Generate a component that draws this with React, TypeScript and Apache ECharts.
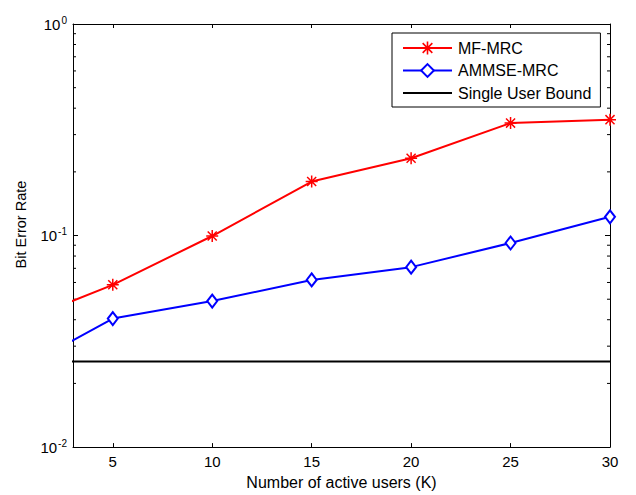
import React, { useEffect, useRef } from "react";
import * as echarts from "echarts";

const userCounts = [1, 5, 10, 15, 20, 25, 30];
const mfMrc = [0.0414, 0.0585, 0.0995, 0.18, 0.232, 0.34, 0.353];
const ammseMrc = [0.0252, 0.0405, 0.049, 0.0617, 0.0709, 0.0922, 0.1226];
const singleUserBound = [0.0254, 0.0254, 0.0254, 0.0254, 0.0254, 0.0254, 0.0254];
const minorTickValues = [0.02, 0.03, 0.04, 0.05, 0.06, 0.07, 0.08, 0.09, 0.2, 0.3, 0.4, 0.5, 0.6, 0.7, 0.8, 0.9];
const xMin = 3;
const xMax = 30;
const yMin = 0.01;
const yMax = 1;

const FONT = "'Liberation Sans', Arial, Helvetica, sans-serif";

const asteriskPath =
  "path://M10.5 0H13.5V24H10.5Z M0 10.5H24V13.5H0Z M1.9 4L4 1.9L22.1 20L20 22.1Z M20 1.9L22.1 4L4 22.1L1.9 20Z";

export default function App() {
  const ref = useRef<HTMLDivElement>(null);

  useEffect(() => {
    if (!ref.current) return;
    const chart = echarts.init(ref.current, null, { renderer: "svg" });
    const pair = (ys: number[]) => userCounts.map((x, i) => [x, ys[i]]);

    const yLabelFmt = (v: number) => {
      const e = Math.round(Math.log10(v));
      return "10{e|" + e + "}";
    };

    chart.setOption({
      animation: false,
      backgroundColor: "#fff",
      textStyle: { fontFamily: FONT, color: "#000" },
      grid: { left: 73, right: 26, top: 24, bottom: 46 },
      legend: {
        data: [
          { name: "MF-MRC" },
          { name: "AMMSE-MRC" },
          { name: "Single User Bound", itemStyle: { opacity: 0 } },
        ],
        orient: "vertical",
        left: 392,
        top: 33,
        itemWidth: 49,
        itemHeight: 16,
        itemGap: 6.5,
        padding: [7, 9, 6, 10],
        borderColor: "#000",
        borderWidth: 1,
        borderRadius: 0,
        backgroundColor: "#fff",
        selectedMode: false,
        textStyle: { fontFamily: FONT, fontSize: 16, color: "#000", padding: [0, 0, 0, 1] },
      },
      xAxis: [
        {
          type: "value",
          min: xMin,
          max: xMax,
          name: "Number of active users (K)",
          nameLocation: "middle",
          nameGap: 24,
          nameTextStyle: { fontFamily: FONT, fontSize: 16, color: "#000" },
          axisLine: { show: true, lineStyle: { color: "#000", width: 1 } },
          axisTick: { show: true, inside: true, length: 4, lineStyle: { color: "#000" } },
          axisLabel: { showMinLabel: false, fontFamily: FONT, fontSize: 15, color: "#000", margin: 7 },
          splitLine: { show: false },
        },
        {
          type: "value",
          position: "top",
          min: xMin,
          max: xMax,
          axisLine: { show: true, onZero: false, lineStyle: { color: "#000", width: 1 } },
          axisTick: { show: true, inside: true, length: 4, lineStyle: { color: "#000" } },
          axisLabel: { show: false },
          splitLine: { show: false },
        },
      ],
      yAxis: [
        {
          type: "log",
          logBase: 10,
          min: yMin,
          max: yMax,
          name: "Bit Error Rate",
          nameLocation: "middle",
          nameGap: 45,
          nameTextStyle: { fontFamily: FONT, fontSize: 14.5, color: "#000", padding: [0, 0, 0, 22] },
          axisLine: { show: true, lineStyle: { color: "#000", width: 1 } },
          axisTick: { show: true, inside: true, length: 5, lineStyle: { color: "#000" } },
          axisLabel: {
            fontFamily: FONT,
            fontSize: 15,
            color: "#000",
            margin: 6,
            formatter: yLabelFmt,
            rich: {
              e: { fontFamily: FONT, fontSize: 10, color: "#000", verticalAlign: "top", padding: [0, 0, 8, 1] },
            },
          },
          splitLine: { show: false },
        },
        {
          type: "log",
          logBase: 10,
          position: "right",
          min: yMin,
          max: yMax,
          axisLine: { show: true, onZero: false, lineStyle: { color: "#000", width: 1 } },
          axisTick: { show: true, inside: true, length: 5, lineStyle: { color: "#000" } },
          axisLabel: { show: false },
          splitLine: { show: false },
        },
      ],
      series: [
        {
          name: "Single User Bound",
          type: "line",
          data: pair(singleUserBound),
          showSymbol: false,
          symbol: "none",
          clip: true,
          color: "#000",
          lineStyle: { color: "#000", width: 2 },
          z: 3,
        },
        {
          name: "MF-MRC",
          type: "line",
          data: pair(mfMrc),
          symbol: asteriskPath,
          symbolSize: 12,
          clip: true,
          color: "#ff0000",
          lineStyle: { color: "#ff0000", width: 2 },
          itemStyle: { color: "#ff0000" },
          z: 4,
        },
        {
          name: "AMMSE-MRC",
          type: "line",
          data: pair(ammseMrc),
          symbol: "diamond",
          symbolSize: [10, 13],
          clip: true,
          color: "#0000ff",
          lineStyle: { color: "#0000ff", width: 2 },
          itemStyle: { color: "#ffffff", borderColor: "#0000ff", borderWidth: 2 },
          z: 4,
        },
        {
          name: "minorTicks",
          type: "custom",
          data: minorTickValues.map((v) => [xMin, v]),
          silent: true,
          z: 2,
          renderItem: (params: any, api: any) => {
            const v = api.value(1);
            const l = api.coord([xMin, v]);
            const r = api.coord([xMax, v]);
            const st = { stroke: "#000", lineWidth: 1 };
            return {
              type: "group",
              children: [
                { type: "line", shape: { x1: l[0], y1: l[1], x2: l[0] + 3, y2: l[1] }, style: st },
                { type: "line", shape: { x1: r[0] - 3, y1: r[1], x2: r[0], y2: r[1] }, style: st },
              ],
            };
          },
        },
      ],
    });

    return () => chart.dispose();
  }, []);

  return <div ref={ref} style={{ position: "absolute", left: 0, top: 0, width: 636, height: 495 }} />;
}
